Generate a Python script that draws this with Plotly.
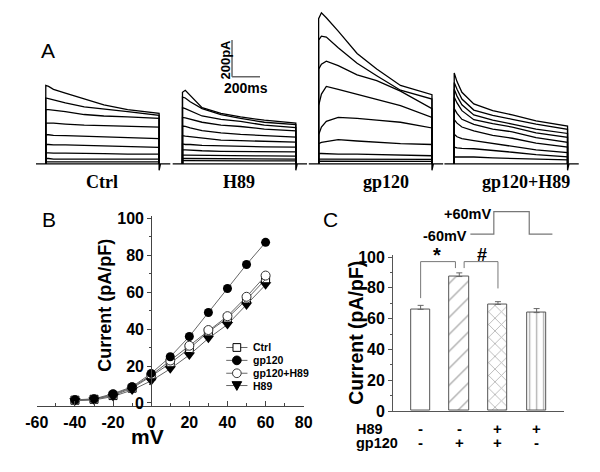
import plotly.graph_objects as go

W, H = 600, 472


def fx(p):
    return p / W


def fy(p):
    return 1 - p / H


SANS = "Liberation Sans, Arial, sans-serif"
SERIF = "Liberation Serif, Times New Roman, serif"

# ---------------- Panel A: current traces (pA) at common time points (ms) ----------------
t_ms = [0, 20, 55, 140, 275, 415, 585, 810]

ctrl_traces = [
    [426, 421, 405, 384, 352, 321, 295, 274],
    [358, 355, 347, 331, 310, 300, 284, 263],
    [295, 295, 292, 284, 268, 260, 255, 247],
    [221, 221, 221, 216, 210, 208, 203, 200],
    [158, 158, 155, 153, 150, 147, 142, 137],
    [105, 105, 103, 103, 100, 97, 95, 89],
    [60, 60, 58, 58, 58, 55, 53, 53],
    [29, 29, 26, 26, 26, 26, 26, 26],
    [11, 11, 11, 11, 11, 11, 11, 11],
]
h89_traces = [
    [389, 400, 373, 305, 274, 255, 237, 221],
    [363, 358, 337, 300, 268, 247, 226, 213],
    [305, 300, 289, 260, 242, 231, 210, 197],
    [252, 250, 242, 226, 210, 203, 189, 179],
    [205, 203, 195, 181, 168, 160, 153, 145],
    [153, 150, 147, 137, 129, 126, 121, 118],
    [108, 105, 105, 100, 97, 95, 92, 91],
    [76, 76, 74, 71, 68, 68, 66, 65],
    [47, 47, 47, 46, 45, 45, 43, 42],
    [29, 29, 29, 28, 27, 27, 26, 26],
    [17, 17, 17, 17, 16, 16, 16, 16],
]
gp120_traces = [
    [789, 821, 794, 721, 600, 515, 426, 376],
    [673, 694, 689, 631, 547, 479, 400, 352],
    [515, 542, 558, 534, 484, 452, 395, 300],
    [316, 379, 421, 405, 379, 352, 316, 252],
    [158, 200, 231, 252, 247, 237, 226, 195],
    [110, 116, 121, 132, 124, 116, 110, 105],
    [56, 56, 55, 53, 53, 50, 47, 44],
    [26, 26, 26, 26, 25, 25, 24, 24],
    [14, 14, 14, 14, 13, 13, 13, 13],
]
gp120h89_traces = [
    [494, 447, 389, 326, 289, 266, 234, 205],
    [442, 405, 352, 292, 263, 242, 216, 187],
    [405, 368, 321, 266, 237, 216, 189, 165],
    [363, 331, 289, 240, 218, 200, 168, 144],
    [300, 274, 242, 214, 189, 174, 142, 117],
    [240, 221, 200, 179, 155, 139, 113, 91],
    [161, 147, 137, 126, 110, 97, 76, 61],
    [91, 87, 84, 82, 71, 63, 50, 38],
    [38, 37, 37, 37, 32, 29, 26, 21],
]
group_names = ["Ctrl", "H89", "gp120", "gp120+H89"]
group_traces = [ctrl_traces, h89_traces, gp120_traces, gp120h89_traces]
group_offsets_ms = [0, 977, 1950, 2919]
group_label_px = [93, 235, 388, 533]

# ---------------- Panel B: I-V curves ----------------
mv = [-40, -30, -20, -10, 0, 10, 20, 30, 40, 50, 60]
iv_ctrl = [1.5, 2.0, 4.0, 8.0, 14.5, 21.5, 29.5, 38.5, 46.0, 56.0, 67.0]
iv_gp120 = [1.7, 2.2, 5.0, 8.8, 16.0, 25.0, 36.0, 49.0, 62.0, 75.0, 87.0]
iv_gp120h89 = [1.6, 2.1, 4.5, 8.5, 15.0, 23.0, 31.0, 39.5, 47.0, 57.5, 69.0]
iv_h89 = [1.2, 1.6, 3.5, 7.0, 12.0, 18.5, 26.0, 35.0, 42.5, 53.0, 64.0]
b_xticks = [-60, -40, -20, 0, 20, 40, 60, 80]
b_yticks = [0, 20, 40, 60, 80, 100]

# ---------------- Panel C: bar chart ----------------
bar_means = [66.0, 87.3, 69.2, 63.9]
bar_sems = [2.6, 2.4, 1.8, 2.6]
row_h89 = ["-", "-", "+", "+"]
row_gp120 = ["-", "+", "+", "-"]
c_yticks = [0, 20, 40, 60, 80, 100]

fig = go.Figure()

# ---- Panel A ----
px_per_ms = 29 / 200.0
pA_per_px = 200 / 38.0
T_end = t_ms[-1]
for k, traces in enumerate(group_traces):
    off = group_offsets_ms[k]
    xs = [off - 70, off + T_end, off + T_end, off + T_end + 10, off + T_end + 80, None]
    ys = [0, 0, -35, 0, 0, None]
    for tr in traces:
        xs += [off + t_ms[0]] + [off + t for t in t_ms] + [off + T_end, None]
        ys += [0] + list(tr) + [0, None]
    fig.add_trace(go.Scatter(x=xs, y=ys, mode="lines", xaxis="x", yaxis="y",
                             line=dict(color="black", width=1.3),
                             showlegend=False, hoverinfo="skip"))

x0_ms = -35 / px_per_ms
fig.update_layout(
    xaxis=dict(domain=[0, 1], range=[x0_ms, x0_ms + 600 / px_per_ms], visible=False, fixedrange=True),
    yaxis=dict(domain=[fy(175), 1], range=[(163 - 175) * pA_per_px, 163 * pA_per_px],
               visible=False, fixedrange=True),
)
# scale bar 200 pA / 200 ms
sb_x, sb_y = 1331, 473
fig.add_shape(type="line", xref="x", yref="y", x0=sb_x, x1=sb_x, y0=sb_y, y1=sb_y + 200,
              line=dict(color="#666", width=1.5))
fig.add_shape(type="line", xref="x", yref="y", x0=sb_x, x1=sb_x + 200, y0=sb_y, y1=sb_y,
              line=dict(color="#666", width=1.5))

annotations = []


def ann(text, x, y, size, bold=True, family=SANS, xanchor="center", yanchor="middle",
        textangle=0, color="black", xref="paper", yref="paper"):
    if bold:
        text = "<b>" + text + "</b>"
    annotations.append(dict(text=text, x=x, y=y, xref=xref, yref=yref, showarrow=False,
                            xanchor=xanchor, yanchor=yanchor, textangle=textangle,
                            borderpad=0,
                            font=dict(family=family, size=size, color=color)))


ann("200pA", fx(221), fy(55), 13, textangle=-90)
ann("200ms", fx(243), fy(85), 14)
for name, p in zip(group_names, group_label_px):
    ann(name, fx(p), fy(182), 18, family=SERIF)

ann("A", fx(37.5), fy(46), 21, bold=False)
ann("B", fx(38.5), fy(221), 21, bold=False)
ann("C", fx(330), fy(220), 21, bold=False)

# ---- Panel B ----
series_b = [
    ("Ctrl", iv_ctrl, dict(symbol="square-open", size=8, color="black", line=dict(width=1))),
    ("gp120+H89", iv_gp120h89, dict(symbol="circle", size=9, color="white",
                                     line=dict(width=1, color="#333"))),
    ("gp120", iv_gp120, dict(symbol="circle", size=9, color="black")),
    ("H89", iv_h89, dict(symbol="triangle-down", size=10, color="black")),
]
for name, vals, mk in series_b:
    fig.add_trace(go.Scatter(x=mv, y=vals, mode="lines+markers", xaxis="x2", yaxis="y2",
                             name=name, line=dict(color="#666", width=1), marker=mk,
                             showlegend=False))

tickfont_b = dict(family=SANS, size=16, color="black")
fig.update_layout(
    xaxis2=dict(domain=[fx(25.7), fx(302.3)], range=[-60, 80], anchor="y2",
                showline=True, linecolor="#444", linewidth=1.2, showgrid=False, zeroline=False,
                ticks="inside", ticklen=5, tickcolor="#444", ticklabelstandoff=2,
                tickvals=b_xticks, ticktext=["<b>%d</b>" % v for v in b_xticks],
                minor=dict(dtick=10, ticks="inside", ticklen=3, tickcolor="#444"),
                tickfont=tickfont_b, fixedrange=True),
    yaxis2=dict(domain=[fy(413.3), fy(217)], range=[-1.73, 101.2], anchor="free",
                position=fx(144.3), showline=True, linecolor="#444", linewidth=1.2,
                showgrid=False, zeroline=False, ticks="outside", ticklen=4, tickcolor="#444",
                tickvals=b_yticks, ticktext=["<b>%d</b>" % v for v in b_yticks],
                minor=dict(dtick=10, ticks="outside", ticklen=2, tickcolor="#444"),
                tickfont=tickfont_b, fixedrange=True),
)
ann("mV", fx(140), fy(445), 21)
ann("Current (pA/pF)", fx(97), fy(309), 18, textangle=-90)

# manual legend for panel B
leg_y = [352.7, 366, 379.3, 392]
leg_names = ["Ctrl", "gp120", "gp120+H89", "H89"]
for yy, nm in zip(leg_y, leg_names):
    fig.add_shape(type="line", xref="paper", yref="paper", x0=fx(222), x1=fx(244),
                  y0=fy(yy), y1=fy(yy), line=dict(color="#666", width=1))
    cx, cy = 233, yy
    if nm == "Ctrl":
        fig.add_shape(type="rect", xref="paper", yref="paper", x0=fx(cx - 4), x1=fx(cx + 4),
                      y0=fy(cy + 4), y1=fy(cy - 4), fillcolor="white",
                      line=dict(color="black", width=1))
    elif nm == "gp120":
        fig.add_shape(type="circle", xref="paper", yref="paper", x0=fx(cx - 4.5), x1=fx(cx + 4.5),
                      y0=fy(cy + 4.5), y1=fy(cy - 4.5), fillcolor="black",
                      line=dict(color="black", width=1))
    elif nm == "gp120+H89":
        fig.add_shape(type="circle", xref="paper", yref="paper", x0=fx(cx - 4.5), x1=fx(cx + 4.5),
                      y0=fy(cy + 4.5), y1=fy(cy - 4.5), fillcolor="white",
                      line=dict(color="#333", width=1))
    else:
        path = "M {} {} L {} {} L {} {} Z".format(fx(cx - 5), fy(cy - 4), fx(cx + 5), fy(cy - 4),
                                                   fx(cx), fy(cy + 5))
        fig.add_shape(type="path", xref="paper", yref="paper", path=path, fillcolor="black",
                      line=dict(color="black", width=1))
    ann(nm, fx(249), fy(yy), 10.5, xanchor="left")

# ---- Panel C ----
fig.add_trace(go.Bar(
    x=[0, 1, 2, 3], y=bar_means, width=0.5, xaxis="x3", yaxis="y3", showlegend=False,
    marker=dict(color="white", line=dict(color="#555", width=1),
                pattern=dict(shape=["", "/", "x", "|"], fgcolor="#666", bgcolor="white",
                             size=[8, 12, 9, 7], solidity=[0.1, 0.12, 0.18, 0.2],
                             fillmode="overlay")),
    error_y=dict(type="data", symmetric=False, array=bar_sems, arrayminus=[0, 0, 0, 0],
                 color="#666", thickness=1, width=3),
))
tickfont_c = dict(family=SANS, size=16, color="black")
fig.update_layout(
    xaxis3=dict(domain=[fx(395), fx(571.7)], range=[-0.71, 3.7], anchor="y3",
                showline=True, linecolor="#555", linewidth=1.2, showgrid=False, zeroline=False,
                showticklabels=False, ticks="", fixedrange=True),
    yaxis3=dict(domain=[fy(418.3), fy(256.7)], range=[0, 101.6], anchor="x3",
                showline=True, linecolor="#555", linewidth=1.2, showgrid=False, zeroline=False,
                ticks="outside", ticklen=4, tickcolor="#555",
                tickvals=c_yticks, ticktext=["<b>%d</b>" % v for v in c_yticks],
                minor=dict(dtick=10, ticks="outside", ticklen=2, tickcolor="#555"),
                tickfont=tickfont_c, fixedrange=True),
)
ann("Current (pA/pF)", fx(357), fy(338), 19.5, textangle=-90)

# significance brackets
br_col = dict(color="#777", width=1)
fig.add_shape(type="path", xref="x3", yref="y3", line=br_col,
              path="M 0 73.3 L 0 97 L 0.9 97 L 0.9 92.8")
fig.add_shape(type="path", xref="x3", yref="y3", line=br_col,
              path="M 1.125 92.8 L 1.125 97 L 2 97 L 2 79.6")
ann("*", 0.42, fy(257), 20, xref="x3")
ann("#", 1.6, fy(257), 18, xref="x3")

# stimulation protocol
proto = [(475, 235.7), (499.3, 235.7), (499.3, 212.3), (536, 212.3), (536, 235.7), (560, 235.7)]
path = "M " + " L ".join("{} {}".format(fx(a), fy(b)) for a, b in proto)
fig.add_shape(type="path", xref="paper", yref="paper", path=path,
              line=dict(color="#777", width=1.2))
ann("+60mV", fx(497), fy(215), 14.5, xanchor="right")
ann("-60mV", fx(473), fy(238), 14.5, xanchor="right")

# condition table
ann("H89", fx(355), fy(436.5), 14.5, xanchor="left")
ann("gp120", fx(355), fy(451), 14.5, xanchor="left")
for i, (a, b) in enumerate(zip(row_h89, row_gp120)):
    ann(a, i, fy(436.5), 15, xref="x3")
    ann(b, i, fy(451), 15, xref="x3")

fig.update_layout(
    width=W, height=H, margin=dict(l=0, r=0, t=0, b=0),
    paper_bgcolor="white", plot_bgcolor="rgba(0,0,0,0)",
    showlegend=False, annotations=annotations, bargap=0,
)
fig.write_html("out.html", config={"displayModeBar": False},
               post_script="document.body.style.margin='0';document.body.style.padding='0';")
